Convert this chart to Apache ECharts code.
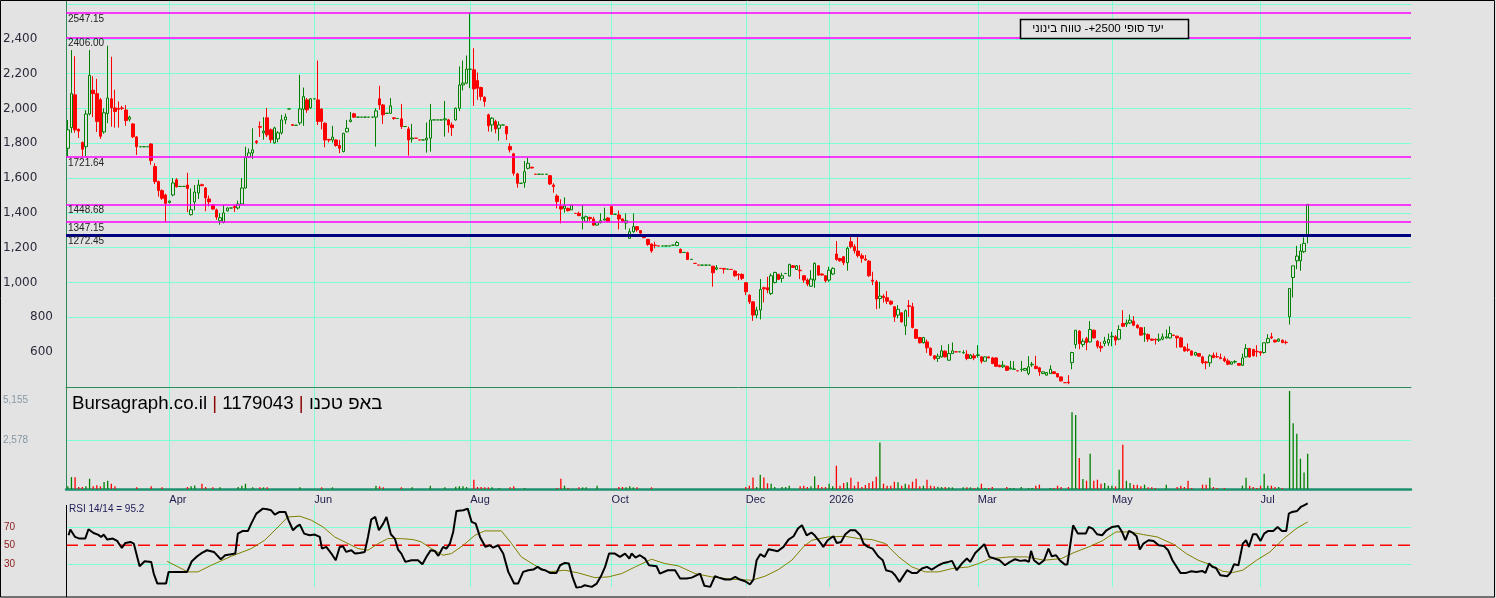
<!DOCTYPE html>
<html><head><meta charset="utf-8">
<script src="https://cdn.jsdelivr.net/npm/echarts@6/dist/echarts.min.js"></script>
<style>html,body{margin:0;padding:0;background:#e3e3e3}#c{width:1496px;height:598px}</style>
</head><body><div id="c"></div>
<script>
// ---- data ----
// candles: [open, close, low, high]
const ohlc = [
[1771,1877,1724,1934],[1890,2085,1860,2335],[2078,1877,1860,2300],[1880,1870,1830,1885],[1804,1766,1724,1810],
[1780,1968,1725,1990],[1968,2190,1960,2335],[2105,2085,1950,2185],[2085,1925,1865,2170],[2050,1840,1825,2060],
[1865,1975,1855,2000],[1970,2060,1915,2360],[2055,2003,1895,2297],[2003,1982,1890,2107],[2000,1995,1890,2040],
[2003,2000,1990,2015],[1991,1930,1900,2020],[1938,1950,1925,1958],[1911,1837,1830,1915],[1836,1780,1733,1842],
[1780,1780,1780,1780],[1780,1780,1780,1780],[1780,1780,1780,1780],[1796,1701,1676,1800],[1666,1580,1566,1685],
[1580,1528,1493,1585],[1528,1484,1475,1535],[1503,1455,1349,1510],[1460,1468,1455,1470],[1503,1572,1495,1600],
[1590,1550,1545,1600],[1552,1552,1552,1552],[1552,1552,1552,1552],[1560,1540,1405,1630],[1390,1418,1385,1540],
[1463,1520,1415,1560],[1514,1560,1480,1590],[1562,1556,1554,1568],[1543,1486,1410,1548],[1480,1463,1437,1500],
[1446,1422,1418,1450],[1417,1376,1360,1425],[1355,1372,1332,1398],[1345,1400,1340,1445],[1412,1428,1408,1432],
[1428,1428,1428,1428],[1436,1430,1405,1445],[1428,1451,1420,1470],[1451,1543,1448,1600],[1543,1721,1540,1780],
[1721,1744,1715,1770],[1744,1762,1710,1886],[1812,1805,1795,1818],[1896,1892,1836,1925],[1860,1870,1820,1950],
[1946,1848,1835,2003],[1877,1820,1802,1885],[1802,1888,1797,1895],[1825,1860,1805,1870],[1860,1934,1850,1963],
[1934,1951,1910,1970],[1997,1997,1997,1997],[1907,1903,1900,1910],[1903,1903,1903,1903],[1917,1997,1905,2193],
[1995,2068,1900,2120],[2049,1992,1975,2060],[2003,2055,1998,2060],[2055,2055,2055,2055],[2049,1925,1905,2275],
[1997,1925,1880,2000],[1915,1819,1777,1920],[1822,1818,1805,1825],[1819,1835,1804,1900],[1819,1787,1780,1822],
[1787,1771,1743,1819],[1752,1857,1748,1860],[1866,1886,1862,1934],[1925,1934,1920,1980],[1969,1950,1945,1975],
[1950,1950,1950,1950],[1950,1950,1950,1950],[1950,1950,1950,1950],[1950,1950,1950,1950],[1950,1950,1950,1950],
[1950,1986,1781,2001],[2055,2020,1992,2130],[2020,1963,1911,2025],[1972,1972,1972,1972],[1972,2015,1970,2059],
[1946,1942,1935,1950],[1942,1942,1942,1942],[1940,1896,1882,2026],[1896,1896,1896,1896],[1882,1819,1729,1895],
[1825,1830,1804,1911],[1829,1829,1829,1829],[1819,1819,1819,1819],[1819,1819,1819,1819],[1819,1829,1746,1919],
[1829,1934,1752,2026],[1934,1934,1934,1934],[1934,1934,1934,1934],[1934,1934,1934,1934],[1934,1940,1838,2043],
[1934,1905,1861,1940],[1905,1890,1842,1920],[1934,2001,1930,2005],[2001,2135,1985,2241],[2135,2145,2103,2275],
[2145,2226,2140,2304],[2224,2226,2116,2547],[2222,2112,2015,2346],[2160,2116,2049,2206],[2120,2068,2045,2125],
[2064,2040,2011,2070],[1963,1900,1867,1970],[1905,1944,1867,1950],[1925,1882,1857,1935],[1886,1905,1815,1925],
[1905,1905,1905,1905],[1896,1854,1819,1900],[1781,1762,1747,1800],[1739,1628,1614,1745],[1624,1570,1545,1630],
[1570,1570,1570,1570],[1574,1637,1545,1698],[1656,1685,1650,1717],[1662,1658,1655,1665],[1622,1622,1622,1622],
[1622,1622,1622,1622],[1622,1622,1622,1622],[1622,1622,1622,1622],[1614,1566,1560,1618],[1560,1551,1516,1570],
[1497,1465,1426,1507],[1436,1422,1340,1478],[1426,1440,1401,1489],[1426,1413,1408,1430],[1417,1445,1417,1445],
[1397,1397,1397,1397],[1397,1384,1384,1407],[1367,1375,1305,1445],[1351,1378,1347,1385],[1374,1367,1355,1378],
[1365,1330,1325,1378],[1330,1344,1328,1348],[1344,1355,1340,1397],[1359,1365,1355,1430],[1371,1350,1347,1375],
[1436,1392,1388,1440],[1392,1392,1392,1392],[1388,1365,1305,1413],[1365,1350,1344,1368],[1342,1355,1305,1397],
[1254,1292,1254,1311],[1292,1321,1286,1397],[1321,1302,1292,1325],[1298,1284,1280,1302],[1273,1258,1254,1277],
[1248,1219,1211,1250],[1221,1181,1171,1225],[1215,1212,1196,1234],[1210,1210,1210,1210],[1210,1210,1210,1210],
[1210,1210,1210,1210],[1210,1210,1210,1210],[1215,1215,1215,1215],[1212,1230,1210,1238],[1190,1171,1169,1196],
[1173,1173,1173,1173],[1171,1133,1129,1177],[1133,1133,1133,1133],[1110,1110,1110,1110],[1100,1100,1100,1100],
[1100,1100,1100,1100],[1100,1100,1100,1100],[1100,1100,1100,1100],[1094,1056,976,1094],[1077,1085,1071,1100],
[1081,1081,1081,1081],[1081,1077,1052,1081],[1077,1077,1077,1077],[1075,1075,1075,1075],[1066,1039,1033,1071],
[1047,1043,1014,1052],[1047,1024,1014,1052],[999,947,928,1004],[928,889,876,932],[889,813,780,893],
[813,842,794,861],[842,960,788,1020],[970,964,886,976],[970,957,938,1033],[937,1039,928,1052],
[1000,1058,995,1062],[1047,1018,1015,1050],[1024,1039,1000,1056],[1052,1052,1052,1052],[1037,1104,1035,1108],
[1096,1087,1085,1100],[1075,1096,1072,1100],[1071,1068,1020,1100],[1039,1014,998,1043],[1014,991,979,1024],
[979,1020,975,1071],[1014,1110,970,1116],[1096,1043,1039,1100],[1049,1043,1040,1052],[1039,1010,1000,1043],
[1014,1071,1004,1091],[1049,1081,1043,1087],[1164,1133,1125,1238],[1138,1125,1120,1142],[1148,1114,1100,1152],
[1114,1196,1068,1206],[1234,1206,1196,1267],[1206,1183,1167,1220],[1181,1154,1144,1263],[1154,1139,1114,1167],
[1135,1129,1125,1158],[1123,1039,1033,1129],[1014,1008,985,1062],[1004,905,847,1014],[908,922,851,1004],
[922,914,885,933],[913,893,876,951],[893,876,870,897],[861,803,774,865],[813,846,794,870],
[826,774,770,830],[751,838,698,845],[866,863,803,899],[861,742,736,884],[730,680,675,735],
[684,654,650,688],[654,684,650,688],[659,625,596,673],[623,583,578,627],[579,564,554,583],
[564,577,544,592],[573,608,569,640],[606,573,570,610],[554,592,550,646],[592,608,592,656],
[602,602,602,602],[602,602,602,602],[596,598,592,611],[588,564,554,611],[564,583,562,590],
[579,567,554,592],[581,585,569,640],[573,548,535,577],[548,573,546,575],[573,567,565,575],
[567,535,531,573],[567,519,515,570],[525,516,514,528],[516,525,510,550],[519,496,494,522],
[504,510,500,550],[502,503,500,548],[493,493,493,493],[500,502,487,550],[496,506,494,510],
[477,516,468,577],[527,531,516,544],[519,506,502,579],[510,487,464,515],[477,487,475,490],
[468,483,466,486],[477,502,475,525],[487,477,475,490],[477,458,455,480],[458,435,432,460],
[425,425,425,425],[428,425,416,468],[540,598,502,602],[644,726,621,726],[721,650,617,726],
[644,663,630,678],[678,655,611,688],[659,730,655,778],[726,682,678,730],[663,634,621,669],
[634,625,602,659],[650,663,634,688],[653,673,636,707],[688,692,634,717],[688,669,640,698],
[675,730,669,755],[765,749,745,841],[761,768,745,788],[768,784,761,816],[778,755,749,807],
[755,740,736,760],[740,698,694,745],[703,707,659,745],[701,675,659,707],[675,669,665,678],
[673,670,644,680],[669,675,659,707],[675,688,669,707],[682,688,678,730],[682,707,678,749],
[698,696,692,700],[692,682,625,694],[682,630,627,688],[630,607,603,632],[617,611,602,650],
[607,583,580,610],[583,598,580,602],[592,577,575,595],[573,539,531,579],[544,539,502,550],
[539,579,516,588],[583,569,565,598],[575,573,567,598],[569,563,560,592],[563,550,542,577],
[550,531,525,563],[531,544,529,546],[544,546,535,554],[535,525,523,538],[525,567,521,592],
[573,621,569,646],[621,573,569,625],[615,580,575,620],[605,602,573,640],[602,596,579,605],
[598,654,592,654],[655,678,650,703],[688,682,675,711],[669,659,655,672],[663,675,659,680],
[669,655,652,672],[657,655,645,668],[803,966,759,966],[1029,1096,914,1096],[1125,1152,1077,1211],
[1125,1181,1068,1221],[1177,1225,1170,1259],[1273,1449,1225,1449]
];
const volume = [
140,630,615,105,105,140,543,140,193,140, 368,438,280,140,0,0,0,0,0,88,
0,0,0,140,0,0,88,0,0,0, 0,0,0,105,140,190,0,280,105,0,
88,0,88,0,0,0,0,105,175,280, 0,88,0,88,88,88,0,0,0,0,
0,0,0,0,88,0,0,0,0,0, 88,0,0,88,0,0,0,0,0,0,
0,0,0,0,0,175,140,88,0,0, 0,0,88,0,0,88,0,0,0,0,
175,0,0,0,88,0,0,123,140,140, 105,0,490,105,105,88,88,88,0,53,
0,0,88,140,0,0,53,0,0,0, 0,0,0,0,0,53,543,175,53,0,
0,88,88,88,0,0,175,0,0,0, 0,0,105,105,88,140,88,88,0,0,
0,88,0,0,0,0,0,0,0,0, 0,0,0,0,0,0,0,0,0,0,
0,0,0,0,0,0,0,105,175,613, 105,754,613,298,280,105,0,105,105,175,
0,0,140,175,105,140,666,210,105,105, 280,140,1227,175,315,350,596,175,385,105,
210,315,403,648,2455,280,175,175,385,350, 175,280,228,385,543,140,175,491,175,140,
123,105,105,88,88,0,0,88,88,88, 53,88,280,53,53,105,0,0,0,105,
53,53,0,105,0,53,53,175,228,0, 0,53,53,175,105,0,105,4052,3911,1631,
526,438,1859,438,491,280,315,175,175,140, 1017,2333,438,315,228,228,140,228,88,88,
53,0,0,228,0,0,105,175,105,438, 53,0,0,228,228,596,105,53,0,53,
0,0,0,0,175,596,175,105,53,175, 807,175,175,105,105,53,0,5174,3473,2912,
1596,877,1859
];
// RSI 14 points [day index, value] and its signal line
const rsi = [
[0.2,60.8],[0.7,67],[2,59],[3.2,57.2],[4.8,57.2],[5.7,67.3],[7.1,63.3],[8.3,61.5],[9.2,59],[9.9,61.5],[10.9,56.1],[12.4,57.2],[13.6,54.7],[14.9,47.1],[15.9,52.5],[17.3,53.6],[18.2,51.8],[18.9,41],[19.8,27.3],[21.2,32.7],[23,32],[23.7,19.4],[24.7,8.6],[27.1,8.6],[27.8,21.2],[30.8,21.2],[32.9,21.2],[34.2,32.7],[35.7,38.1],[37,41.7],[38.4,44.6],[40.3,42.8],[42.2,34.9],[43.4,39.2],[45.1,40.3],[46.2,41],[46.9,62.6],[48.3,65.5],[49.7,65.5],[50.6,73.4],[52,84.2],[53.8,89.6],[55,88.9],[56.1,87.8],[57.1,83.2],[58.4,86],[60,86],[60.9,77],[62.1,66.2],[63,69.8],[64,72.3],[65.2,62.6],[66.7,60.8],[68.1,61.5],[69.5,59],[70.1,46.4],[71.3,48.2],[72.7,41],[73.9,33.8],[75,48.2],[75.9,48.9],[76.8,42.8],[78.2,44.6],[79.2,41],[80.5,41.7],[81.9,42.8],[82.8,59],[83.7,77.8],[84.8,80.6],[85.8,66.2],[87,73.4],[87.9,80.6],[89.1,61.9],[90.2,57.2],[91.1,45.3],[92,41],[93.1,32],[94.8,33.8],[96.6,33.8],[97.8,29.5],[98.9,37.4],[100.1,44.6],[101.2,43.9],[102.2,38.5],[103.5,48.2],[104.4,46.4],[105.4,51.8],[106.3,64.4],[107.2,87.1],[109.1,87.8],[110.3,89.6],[111.4,75.2],[112.5,73.4],[113.7,59],[115.2,48.2],[116.4,50],[117.3,47.5],[118.7,50],
[119.2,50],[120.1,41],[121.5,21.2],[123.1,8.6],[124.2,8.6],[125.6,21.2],[127,23],[128.4,23.7],[129.6,26.6],[130.7,23.7],[131.6,23],[133,20.1],[134.8,20.1],[135.8,28.4],[137.1,30.9],[138.2,30.2],[139.2,15.8],[140.3,4.2],[141.7,5],[142.6,6.8],[144.5,5],[145.9,8.6],[147.2,17.6],[148.2,26.6],[149.3,41],[150.9,41],[152.3,37.4],[153.7,41],[154.9,35.6],[155.5,41],[156.6,36.7],[157.8,39.2],[159.2,35.6],[160.3,28.4],[162.4,27.3],[163.3,19.4],[165.5,23],[167.5,23],[168.9,14],[170.7,14],[172.1,15],[174.4,19.4],[175.6,6.1],[177.2,5],[178.5,16.5],[179.6,15],[181.3,12.9],[182.7,12.9],[184.1,15.8],[185.4,12.9],[186.8,11.1],[188.2,7.8],[189.1,12.9],[190,33.8],[191,40.3],[192.2,37.4],[193.3,45.7],[194.6,44.6],[195.8,43.5],[197.4,48.2],[198.8,56.1],[200.2,59.7],[201.4,68],[202.5,71.6],[203.8,60.8],[205.1,63.7],[206,60.8],[207.1,55.4],[208.4,48.2],[209.6,55.4],[211.2,59.7],[212.1,52.5],[213.3,53.6],[214.4,61.5],[215.8,66.2],[217.2,66.2],[218.6,60.8],[219.5,51.8],[220.7,48.2],[222,46.4],[223.5,38.1],[224.8,33.8],[225.7,23],[227.3,21.2],[228.2,17.6],[229.4,10.4],[230.3,15.8],[231.5,23],[232.8,20.1],[234.2,20.1],[235.6,24.8],[237,26.6],[238.3,23.7],[240.2,28.4],[241.6,30.9],[242.9,32],[243.9,33.1],[245.2,23],[246.6,30.2],[248,35.6],[248.9,32],[250.3,41.7],
[252.8,51.1],[254.2,37.4],[255.6,35.6],[257,33.8],[258.5,28.4],[259.9,32],[261.3,34.9],[262.7,33.1],[264.1,33.8],[265.1,32],[265.7,43.9],[266.5,33.8],[267.9,29.5],[269.3,33.8],[270.5,46.4],[271.4,38.1],[272.6,39.2],[273.6,33.8],[275,29.1],[275.7,29.1],[276.7,55.4],[277.3,71.6],[278.6,62.6],[279.7,62.6],[280.8,62.6],[281.6,69.8],[282.7,68],[283.9,61.9],[285.3,60.8],[286.5,66.2],[288.1,69.8],[289.8,70.9],[290.8,64.4],[291.7,55.4],[292.7,65.5],[293.8,63.3],[294.8,59.7],[295.7,45.3],[296.7,51.8],[298.1,55.4],[299.5,54.7],[300.9,50],[302.3,49.3],[303.5,44.6],[304.7,33.8],[306.9,20.1],[308.5,20.1],[309.9,21.9],[311.3,21.2],[312.9,22.2],[313.8,20.1],[314.8,30.2],[315.7,26.6],[316.7,25.5],[317.9,17.6],[319.8,16.5],[320.7,20.1],[321.7,29.5],[322.9,28.4],[324.1,51.8],[325,55.4],[325.8,48.2],[326.9,61.9],[327.9,61.9],[329,54.7],[330,62.6],[331.1,65.5],[332.5,65.5],[333.7,69.8],[334.9,65.5],[336.1,65.5],[336.8,84.2],[337.7,86],[339.1,87.1],[340.1,91.4],[341,93.2],[342,95.2]
];
const rsiSignal = [
[27.4,32.7],[30.4,26.6],[33.1,21.2],[35.9,21.2],[39.6,28.4],[45.1,38.1],[50.6,46.4],[54.3,55.4],[58,69.8],[60.7,80.6],[64,81.4],[67.2,77],[70.4,69.8],[73.6,59],[77.3,51.8],[80.1,46.4],[82.8,44.6],[85.6,51.8],[88.3,57.2],[92,57.2],[95.3,56.1],[97.5,53.6],[100.3,46.4],[103.5,39.2],[105.8,41],[109.1,50],[112.3,60.8],[115,65.5],[119.6,65.5],[122.4,51.8],[125.1,37.4],[128.8,28.4],[132.5,21.2],[137.1,23],[140.8,20.1],[145.4,15],[149.1,15.8],[152.8,19.4],[156.5,26.6],[161,34.9],[164.7,30.2],[168.4,27.7],[173,19.4],[177.6,15.8],[183.1,13.2],[188.7,12.2],[192.3,16.5],[196,23.7],[199.7,33.8],[202.9,48.2],[205.2,55.4],[209.8,59],[214.4,59.7],[218.1,57.2],[221.8,56.1],[225.5,51.8],[229.2,37.4],[232.8,26.6],[236.5,21.2],[240.2,21.2],[243.9,24.8],[248.5,26.6],[251.2,30.2],[254.6,35.6],[259.9,37.4],[264.6,37.4],[269.3,33.8],[274.1,35.6],[277.3,41.7],[281.6,48.2],[285.3,54.7],[289.1,64.4],[292.9,64.4],[296.7,61.5],[300.5,59],[305.2,50.7],[308.5,41],[311.8,33.8],[315.6,28.4],[318.5,21.9],[321.3,20.5],[324.1,23],[327.9,33.8],[331.6,42.8],[335.4,57.2],[339.1,68.7],[342,75.2]
];
const rsiMid = 50;
const levels = [2547.15, 2406.00, 1721.64, 1448.68, 1347.15];
const keyLevel = 1272.45;
const monthTicks = [28, 68, 111, 150, 187, 210, 251, 288, 329];
const monthLabels = ['Apr','Jun','Aug','Oct','Dec','2026','Mar','May','Jul'];
const rsiText = 'RSI 14/14 = 95.2';
const noteText = 'יעד סופי 2500+- טווח בינוני';
const dayCount = 371;

// ---- chart ----
const categories = Array.from({length: dayCount}, (_, i) => String(i));
const tickSet = new Set(monthTicks);
const labelMap = {}; monthTicks.forEach((t, j) => labelMap[t] = monthLabels[j]);
const GREEN = '#008000', RED = '#ff0000', AQUA = '#7fffd4', SEA = '#2e8b57', BG = '#e3e3e3';
const NONE = 'rgba(0,0,0,0)';
const L = 66, R = 85;
const splitX = { show: true, interval: (i) => tickSet.has(i), alignWithLabel: true, lineStyle: { color: AQUA, width: 1 } };
const hidden = { show: false };

const chart = echarts.init(document.getElementById('c'), null, { renderer: 'canvas' });
chart.setOption({
  animation: false,
  backgroundColor: BG,
  textStyle: { fontFamily: 'Liberation Sans, Arial, sans-serif' },
  grid: [
    { left: L, right: R, top: 1, height: 386 },
    { left: L, right: R, top: 387, height: 102 },
    { left: L, right: R, top: 505, height: 82 },
    { left: L, right: R, top: 499, height: 92.5 }
  ],
  xAxis: [
    { type: 'category', gridIndex: 0, data: categories, boundaryGap: true,
      axisLine: { show: true, lineStyle: { color: SEA, width: 1 } }, axisTick: hidden, axisLabel: hidden, splitLine: splitX },
    { type: 'category', gridIndex: 1, data: categories, boundaryGap: true,
      axisLine: { show: true, lineStyle: { color: '#1f9070', width: 2.5 } }, axisTick: hidden,
      axisLabel: { show: true, interval: (i) => tickSet.has(i), formatter: (v, i) => labelMap[+v] || '', align: 'left', margin: 5,
        color: '#1c1c4c', fontSize: 11, fontFamily: 'Liberation Sans' },
      splitLine: splitX },
    { type: 'category', gridIndex: 2, data: categories, boundaryGap: true,
      axisLine: hidden, axisTick: hidden, axisLabel: hidden, splitLine: splitX },
    { type: 'value', gridIndex: 3, min: -0.5, max: dayCount - 0.5, show: false }
  ],
  yAxis: [
    { type: 'value', gridIndex: 0, min: 400, max: 2617, interval: 200,
      axisLine: { show: true, lineStyle: { color: SEA } }, axisTick: hidden,
      axisLabel: { align: 'left', margin: 63, fontSize: 12, color: '#2a2a3a', fontFamily: 'DejaVu Sans',
        formatter: (v) => (v <= 400 || v >= 2500) ? '' : (v >= 1000 ? '{a|' + v.toLocaleString('en-US') + '}' : '{b|' + v + '}'),
        rich: { a: { fontSize: 12, color: '#2a2a3a', fontFamily: 'DejaVu Sans' }, b: { fontSize: 12, color: '#2a2a3a', fontFamily: 'DejaVu Sans', padding: [0,0,0,27] } } },
      splitLine: { show: true, showMinLine: false, showMaxLine: false,
        lineStyle: { color: [NONE, AQUA, AQUA, AQUA, AQUA, AQUA, AQUA, AQUA, AQUA, AQUA, AQUA, NONE, NONE] } } },
    { type: 'value', gridIndex: 1, min: 0, max: 5382, interval: 2577.5,
      axisLine: { show: true, lineStyle: { color: SEA } }, axisTick: hidden,
      axisLabel: { align: 'left', margin: 63, fontSize: 10, color: '#8898a4',
        formatter: (v) => v === 5155 ? '{d|5,155}' : (v === 2577.5 ? '2,578' : ''),
        rich: { d: { fontSize: 10, color: '#8898a4', padding: [18,0,0,0] } } },
      splitLine: { show: true, lineStyle: { color: [NONE, AQUA, NONE, NONE] } } },
    { type: 'value', gridIndex: 2, min: 0, max: 1, show: false },
    { type: 'value', gridIndex: 3, min: 0, max: 100, interval: 10,
      axisLine: hidden, axisTick: hidden,
      axisLabel: { align: 'left', margin: 62, fontSize: 10, color: '#8b1a1a',
        formatter: (v) => (v === 30 || v === 50 || v === 70) ? String(v) : '' },
      splitLine: { show: true, lineStyle: { color: [NONE, NONE, NONE, AQUA, NONE, NONE, NONE, AQUA, NONE, NONE, NONE] } } }
  ],
  series: [
    { type: 'candlestick', xAxisIndex: 0, yAxisIndex: 0, data: ohlc, barWidth: 3,
      itemStyle: { color: BG, color0: RED, borderColor: GREEN, borderColor0: RED, borderWidth: 1 },
      markLine: { silent: true, symbol: ['none','none'], animation: false,
        label: { show: true, position: 'insideStartBottom', distance: [2, 1], fontSize: 10, color: '#222', fontFamily: 'Liberation Sans',
          formatter: (p) => Number(p.value).toFixed(2) },
        data: levels.map(v => ({ yAxis: v, lineStyle: { color: '#ff00ff', width: 1.5, type: 'solid' } }))
          .concat([{ yAxis: keyLevel, lineStyle: { color: '#000080', width: 3, type: 'solid' } }]) } },
    { type: 'bar', xAxisIndex: 1, yAxisIndex: 1, barWidth: 1.3,
      data: volume.map((v, i) => ({ value: v, itemStyle: { color: ohlc[i][1] >= ohlc[i][0] ? GREEN : RED } })) },
    { type: 'line', xAxisIndex: 3, yAxisIndex: 3, data: [[-0.5, rsiMid], [dayCount - 0.5, rsiMid]], symbol: 'none', silent: true,
      lineStyle: { color: '#ff0000', width: 1.3, type: [12, 6] }, itemStyle: { color: '#ff0000' }, z: 2 },
    { type: 'line', xAxisIndex: 3, yAxisIndex: 3, data: rsiSignal, symbol: 'none', lineStyle: { color: '#808000', width: 1 }, itemStyle: { color: '#808000' }, z: 3 },
    { type: 'line', xAxisIndex: 3, yAxisIndex: 3, data: rsi, symbol: 'none', lineStyle: { color: '#000', width: 2 }, itemStyle: { color: '#000' }, z: 4 }
  ],
  graphic: [
    { type: 'rect', shape: { x: 0.5, y: 0.5, width: 1494, height: 596.5 }, style: { fill: 'none', stroke: '#000', lineWidth: 1 }, z: 100 },
    { type: 'line', shape: { x1: 66.5, y1: 505, x2: 66.5, y2: 597 }, style: { stroke: '#000', lineWidth: 1 }, z: 100 },
    { type: 'text', left: 72, top: 394, z: 100,
      style: { text: '{b|Bursagraph.co.il }{r||}{b| 1179043 }{r||}{b| באפ טכנו}',
        rich: { b: { fontSize: 18.7, fill: '#000', fontFamily: 'Liberation Sans' }, r: { fontSize: 18.7, fill: '#8b0000', fontFamily: 'Liberation Sans' } } } },
    { type: 'text', left: 69, top: 504, z: 100, style: { text: rsiText, fontSize: 10, fill: '#20205a', fontFamily: 'Liberation Sans' } },
    { type: 'rect', shape: { x: 1020.5, y: 19.5, width: 168, height: 19 }, style: { fill: BG, stroke: '#000', lineWidth: 1.5 }, z: 100 },
    { type: 'text', x: 1098, y: 29, z: 101, style: { text: noteText, fontSize: 11.5, fill: '#000', align: 'center', verticalAlign: 'middle', fontFamily: 'Liberation Sans' } }
  ]
});
</script></body></html>
